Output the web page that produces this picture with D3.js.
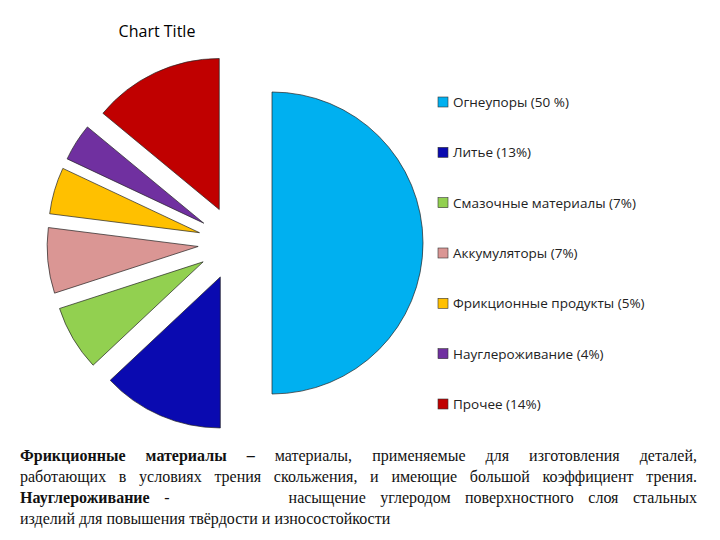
<!DOCTYPE html>
<html lang="ru">
<head>
<meta charset="UTF-8">
<script src="https://d3js.org/d3.v7.min.js"></script>
<style>
  body { margin: 0; background: #fff; }
  #wrap { position: relative; width: 720px; height: 540px; }
  svg { position: absolute; left: 0; top: 0; }
  .legend text { font-family: "Open Sans", sans-serif; font-size: 13.5px; fill: #222; }
  #note {
    position: absolute; left: 20px; top: 445px; width: 677px;
    font-family: "Liberation Serif", serif; font-size: 16px; line-height: 21px; color: #111;
  }
  #note div { white-space: nowrap; text-align: justify; text-align-last: justify; }
  #note div.last { text-align-last: left; }
  #note span.gap { display: inline-block; width: 110px; text-align: center; }
</style>
</head>
<body>
<div id="wrap">
  <svg width="720" height="540"></svg>
  <div id="note">
    <div><b>Фрикционные материалы –</b> материалы, применяемые для изготовления деталей,</div>
    <div>работающих в условиях трения скольжения, и имеющие большой коэффициент трения.</div>
    <div><b>Науглероживание</b> <span class="gap">-</span> насыщение углеродом поверхностного слоя стальных</div>
    <div class="last">изделий для повышения твёрдости и износостойкости</div>
  </div>
</div>
<script>
const categories = ["Огнеупоры (50 %)", "Литье (13%)", "Смазочные материалы (7%)",
  "Аккумуляторы (7%)", "Фрикционные продукты (5%)", "Науглероживание (4%)", "Прочее (14%)"];
const values = [50, 13, 7, 7, 5, 4, 14];
const colors = ["#00b0f0", "#0a0ab0", "#92d050", "#da9694", "#ffc000", "#7030a0", "#c00000"];

const svg = d3.select("svg");
const cx = 235, cy = 243, r = 151, explode = 37;

svg.append("text").attr("x", 157).attr("y", 37).attr("text-anchor", "middle")
  .style("font-family", "'Open Sans', sans-serif").style("font-size", "16px")
  .text("Chart Title");

const pie = d3.pie().sort(null).value(d => d)(values);
const arc = d3.arc().innerRadius(0).outerRadius(r);

svg.selectAll("path.slice").data(pie).join("path")
  .attr("class", "slice")
  .attr("d", arc)
  .attr("transform", d => {
    const a = (d.startAngle + d.endAngle) / 2;
    return `translate(${cx + Math.sin(a) * explode},${cy - Math.cos(a) * explode})`;
  })
  .attr("fill", (d, i) => colors[i])
  .attr("stroke", "#222").attr("stroke-width", 0.7);

const y = d3.scalePoint().domain(categories).range([102, 404]);
const lg = svg.append("g").attr("class", "legend");
const item = lg.selectAll("g").data(categories).join("g")
  .attr("transform", d => `translate(438,${y(d)})`);
item.append("rect").attr("x", 0).attr("y", -5).attr("width", 10).attr("height", 10)
  .attr("fill", (d, i) => colors[i]).attr("stroke", "#333").attr("stroke-width", 0.6);
item.append("text").attr("x", 15).attr("y", 5).text(d => d);
</script>
</body>
</html>
